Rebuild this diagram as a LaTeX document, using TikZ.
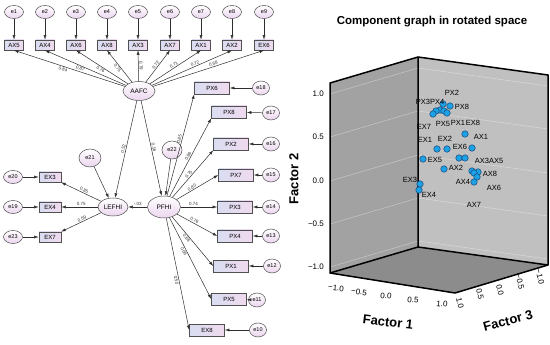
\documentclass[tikz,border=0pt]{standalone}
\usepackage{fontspec}
\setmainfont{Liberation Sans}
\usetikzlibrary{arrows.meta,shapes.geometric}
\definecolor{errpink}{HTML}{EBD5EE}
\definecolor{boxblue}{HTML}{D9DDF1}
\definecolor{boxpink}{HTML}{F0DAEF}
\definecolor{edgegrey}{HTML}{505050}
\definecolor{arrowgrey}{HTML}{2E2E2E}
\definecolor{wallL}{HTML}{A2A2A2}
\definecolor{wallR}{HTML}{C0C0C0}
\definecolor{floorG}{HTML}{8C8C8C}
\definecolor{dotblue}{HTML}{1CA2E4}
\definecolor{dotedge}{HTML}{17457A}

\begin{document}
\begin{tikzpicture}[x=1pt, y=-1pt,
  err/.style={ellipse, draw=edgegrey, line width=0.5pt, top color=white, bottom color=errpink, minimum width=19pt, minimum height=13pt, inner sep=0pt, font=\fontsize{5.5}{6}\selectfont},
  lat/.style={ellipse, draw=edgegrey, line width=0.5pt, top color=white, bottom color=errpink, minimum width=32pt, minimum height=19pt, inner sep=0pt, font=\fontsize{6.5}{7}\selectfont},
  obs/.style={rectangle, draw=edgegrey, line width=0.6pt, left color=boxblue, right color=boxpink, minimum width=19pt, minimum height=10pt, inner sep=0pt, font=\fontsize{6}{6}\selectfont},
  wide/.style={obs, minimum width=35pt, minimum height=12pt},
  arr/.style={-{Latex[length=4.5pt,width=3pt]}, arrowgrey, line width=0.5pt},
  cf/.style={font=\fontsize{4.5}{5}\selectfont, sloped, inner sep=0.8pt, text=arrowgrey},
  cdot/.style={circle, draw=dotedge, fill=dotblue, line width=0.5pt, minimum size=6.5pt, inner sep=0pt},
  ptlab/.style={font=\fontsize{7.5}{8}\selectfont, inner sep=0pt},
  ticklab/.style={font=\fontsize{8}{8}\selectfont, inner sep=0pt},
  axlab/.style={font=\fontsize{13}{13}\selectfont\bfseries, inner sep=0pt},
  boxedge/.style={black, line width=1.5pt, line join=round},
  gridln/.style={white, opacity=0.35, line width=0.6pt},
]
\useasboundingbox (0,0) rectangle (550,345);

% error terms of AAFC indicators
\node[err] (e1) at (14,12) {e1};
\node[err] (e2) at (45,12) {e2};
\node[err] (e3) at (76,12) {e3};
\node[err] (e4) at (107,12) {e4};
\node[err] (e5) at (138,12) {e5};
\node[err] (e6) at (170,12) {e6};
\node[err] (e7) at (201,12) {e7};
\node[err] (e8) at (232,12) {e8};
\node[err] (e9) at (264,12) {e9};

% AAFC indicators
\node[obs] (ax5) at (14,45) {AX5};
\node[obs] (ax4) at (45,45) {AX4};
\node[obs] (ax6) at (76,45) {AX6};
\node[obs] (ax8) at (107,45) {AX8};
\node[obs] (ax3) at (138,45) {AX3};
\node[obs] (ax7) at (170,45) {AX7};
\node[obs] (ax1) at (201,45) {AX1};
\node[obs] (ax2) at (232,45) {AX2};
\node[obs] (ex6) at (264,45) {EX6};

\draw[arr] (e1) -- (ax5);
\draw[arr] (e2) -- (ax4);
\draw[arr] (e3) -- (ax6);
\draw[arr] (e4) -- (ax8);
\draw[arr] (e5) -- (ax3);
\draw[arr] (e6) -- (ax7);
\draw[arr] (e7) -- (ax1);
\draw[arr] (e8) -- (ax2);
\draw[arr] (e9) -- (ex6);

% latent factors
\node[lat] (aafc) at (139,91) {AAFC};
\node[lat, minimum width=30pt, minimum height=18pt] (lefhi) at (113,207) {LEFHI};
\node[lat, minimum width=33pt, minimum height=22pt] (pfhi) at (164,207) {PFHI};
\node[err, minimum width=22pt, minimum height=18pt] (e21) at (90,158) {e21};
\node[err, minimum width=20pt, minimum height=18pt] (e22) at (172,150) {e22};

% AAFC loadings
\draw[arr] (aafc) -- (ax5.south) node[cf, below, pos=0.55] {0.84};
\draw[arr] (aafc) -- (ax4.south) node[cf, below, pos=0.55] {0.87};
\draw[arr] (aafc) -- (ax6.south) node[cf, below, pos=0.5] {0.76};
\draw[arr] (aafc) -- (ax8.south) node[cf, below, pos=0.5] {0.75};
\draw[arr] (aafc) -- (ax3.south) node[cf, above, pos=0.5] {0.79};
\draw[arr] (aafc) -- (ax7.south) node[cf, above, pos=0.5] {0.72};
\draw[arr] (aafc) -- (ax1.south) node[cf, above, pos=0.5] {0.71};
\draw[arr] (aafc) -- (ax2.south) node[cf, above, pos=0.55] {0.72};
\draw[arr] (aafc) -- (ex6.south) node[cf, above, pos=0.55] {0.68};

% structural paths
\draw[arr] (aafc) -- (lefhi) node[cf, above, pos=0.5] {0.52};
\draw[arr] (aafc) -- (pfhi) node[cf, above, pos=0.5] {0.16};
\draw[arr] (pfhi) -- (lefhi) node[cf, above, pos=0.5] {-.03};
\draw[arr] (e21) -- (lefhi);
\draw[arr] (e22) -- (pfhi);

% LEFHI indicators
\node[obs, minimum width=22pt] (ex3) at (50,177) {EX3};
\node[obs, minimum width=22pt] (ex4) at (50,207) {EX4};
\node[obs, minimum width=22pt] (ex7) at (50,237) {EX7};
\node[err] (e20) at (13,177) {e20};
\node[err] (e19) at (13,207) {e19};
\node[err] (e23) at (13,237) {e23};
\draw[arr] (e20) -- (ex3);
\draw[arr] (e19) -- (ex4);
\draw[arr] (e23) -- (ex7);
\draw[arr] (lefhi) -- (ex3) node[cf, above, pos=0.45] {0.85};
\draw[arr] (lefhi) -- (ex4) node[cf, above, pos=0.45] {0.75};
\draw[arr] (lefhi) -- (ex7) node[cf, above, pos=0.45] {0.59};

% PFHI indicators
\node[wide] (px6) at (212,88) {PX6};
\node[wide] (px8) at (229,112) {PX8};
\node[wide] (px2) at (231,144) {PX2};
\node[wide] (px7) at (236,175) {PX7};
\node[wide] (px3) at (235,207) {PX3};
\node[wide] (px4) at (235,236) {PX4};
\node[wide] (px1) at (231,266) {PX1};
\node[wide] (px5) at (229,299) {PX5};
\node[wide] (ex8) at (207,330) {EX8};

\node[err, minimum width=17pt, minimum height=14pt] (e18) at (261,88) {e18};
\node[err, minimum width=17pt, minimum height=14pt] (e17) at (271,113) {e17};
\node[err, minimum width=17pt, minimum height=14pt] (e16) at (271,144) {e16};
\node[err, minimum width=17pt, minimum height=14pt] (e15) at (271,175) {e15};
\node[err, minimum width=17pt, minimum height=14pt] (e14) at (271,207) {e14};
\node[err, minimum width=17pt, minimum height=14pt] (e13) at (271,236) {e13};
\node[err, minimum width=17pt, minimum height=14pt] (e12) at (272,266) {e12};
\node[err, minimum width=17pt, minimum height=14pt] (e11) at (257,300) {e11};
\node[err, minimum width=17pt, minimum height=14pt] (e10) at (258,330) {e10};

\draw[arr] (e18) -- (px6);
\draw[arr] (e17) -- (px8);
\draw[arr] (e16) -- (px2);
\draw[arr] (e15) -- (px7);
\draw[arr] (e14) -- (px3);
\draw[arr] (e13) -- (px4);
\draw[arr] (e12) -- (px1);
\draw[arr] (e11) -- (px5);
\draw[arr] (e10) -- (ex8);

\draw[arr] (pfhi) -- (px6.south west) node[cf, above, pos=0.55] {0.85};
\draw[arr] (pfhi) -- (px8.south west) node[cf, above, pos=0.5] {0.86};
\draw[arr] (pfhi) -- (px2.south west) node[cf, above, pos=0.45] {0.75};
\draw[arr] (pfhi) -- (px7.west) node[cf, above, pos=0.4] {0.80};
\draw[arr] (pfhi) -- (px3.west) node[cf, above, pos=0.35] {0.74};
\draw[arr] (pfhi) -- (px4.west) node[cf, above, pos=0.4] {0.76};
\draw[arr] (pfhi) -- (px1.west) node[cf, below, pos=0.4] {0.68};
\draw[arr] (pfhi) -- (px5.west) node[cf, below, pos=0.4] {0.66};
\draw[arr] (pfhi) -- (ex8.west) node[cf, below, pos=0.55] {0.50};

% Component plot: walls and floor
\coordinate (tl) at (330,83);
\coordinate (tb) at (418,57);
\coordinate (tr) at (548,75);
\coordinate (bl) at (330,273);
\coordinate (bb) at (418,247);
\coordinate (br) at (548,265);
\coordinate (bf) at (455,293);
\fill[wallL] (tl) -- (tb) -- (bb) -- (bl) -- cycle;
\fill[wallR] (tb) -- (tr) -- (br) -- (bb) -- cycle;
\fill[floorG] (bl) -- (bb) -- (br) -- (bf) -- cycle;

% grid lines at factor 2 levels
\draw[gridln] (330,94) -- (418,68) -- (548,86);
\draw[gridln] (330,137) -- (418,111) -- (548,129);
\draw[gridln] (330,181) -- (418,155) -- (548,173);
\draw[gridln] (330,224) -- (418,198) -- (548,216);
\draw[gridln] (330,267) -- (418,241) -- (548,259);

\draw[boxedge] (bl) -- (tl) -- (tb) -- (tr) -- (br) -- (bf) -- cycle;
\draw[boxedge] (tb) -- (bb) -- (bl);
\draw[boxedge] (bb) -- (br);

% title and axis labels
\node[font=\fontsize{11.5}{12}\selectfont\bfseries] (title) at (432,22) {Component graph in rotated space};
\node[axlab, rotate=90] (f2) at (294,179) {Factor 2};
\node[axlab, rotate=-7] (f1) at (388,322) {Factor 1};
\node[axlab, rotate=15] (f3) at (508,321) {Factor 3};

\node[ticklab, anchor=east] (y1) at (324,94) {1.0};
\node[ticklab, anchor=east] (y2) at (324,137) {0.5};
\node[ticklab, anchor=east] (y3) at (324,181) {0.0};
\node[ticklab, anchor=east] (y4) at (324,224) {−0.5};
\node[ticklab, anchor=east] (y5) at (324,267) {−1.0};

\node[ticklab, rotate=-6] (x1) at (336,288) {−1.0};
\node[ticklab, rotate=-6] (x2) at (359,292) {−0.5};
\node[ticklab, rotate=-6] (x3) at (386,296) {0.0};
\node[ticklab, rotate=-6] (x4) at (413,300) {0.5};
\node[ticklab, rotate=-6] (x5) at (442,304) {1.0};

\node[ticklab, rotate=-78] (z1) at (460,303) {1.0};
\node[ticklab, rotate=-78] (z2) at (480,294) {0.5};
\node[ticklab, rotate=-78] (z3) at (500,290) {0.0};
\node[ticklab, rotate=-78] (z4) at (520,282) {−0.5};
\node[ticklab, rotate=-78] (z5) at (540,277) {−1.0};

% loadings in rotated space
\node[cdot] (p1) at (443,104) {};
\node[cdot] (p2) at (450,106) {};
\node[cdot] (p3) at (440,110) {};
\node[cdot] (p4) at (444,111) {};
\node[cdot] (p5) at (436,111) {};
\node[cdot] (p6) at (447,113) {};
\node[cdot] (p7) at (433,114) {};
\node[cdot] (p8) at (465,134) {};
\node[cdot] (p9) at (437,149) {};
\node[cdot] (p10) at (447,149) {};
\node[cdot] (p11) at (472,148) {};
\node[cdot] (p12) at (423,159) {};
\node[cdot] (p13) at (459,158) {};
\node[cdot] (p14) at (465,158) {};
\node[cdot] (p15) at (444,169) {};
\node[cdot] (p16) at (472,171) {};
\node[cdot] (p17) at (478,172) {};
\node[cdot] (p18) at (474,173) {};
\node[cdot] (p19) at (477,177) {};
\node[cdot] (p20) at (474,182) {};
\node[cdot] (p21) at (420,184) {};
\node[cdot] (p22) at (419,190) {};

\node[ptlab] (lpx2) at (452,93) {PX2};
\node[ptlab] (lpx34) at (430,102) {PX3PX4};
\node[ptlab] (lpx8) at (462,107) {PX8};
\node[ptlab] (lex7) at (424,127) {EX7};
\node[ptlab] (lpx5) at (443,124) {PX5};
\node[ptlab] (lpx1) at (458,123) {PX1};
\node[ptlab] (lex8) at (473,123) {EX8};
\node[ptlab] (lax1) at (481,137) {AX1};
\node[ptlab] (lex1) at (425,140) {EX1};
\node[ptlab] (lex2) at (445,139) {EX2};
\node[ptlab] (lex6) at (460,147) {EX6};
\node[ptlab] (lex5) at (435,160) {EX5};
\node[ptlab] (lax35) at (489,161) {AX3AX5};
\node[ptlab] (lax2) at (456,168) {AX2};
\node[ptlab] (lax8) at (490,174) {AX8};
\node[ptlab] (lax4) at (463,182) {AX4};
\node[ptlab] (lax6) at (494,188) {AX6};
\node[ptlab] (lax7) at (474,205) {AX7};
\node[ptlab] (lex3) at (410,180) {EX3};
\node[ptlab] (lex4) at (429,195) {EX4};
\end{tikzpicture}
\end{document}
